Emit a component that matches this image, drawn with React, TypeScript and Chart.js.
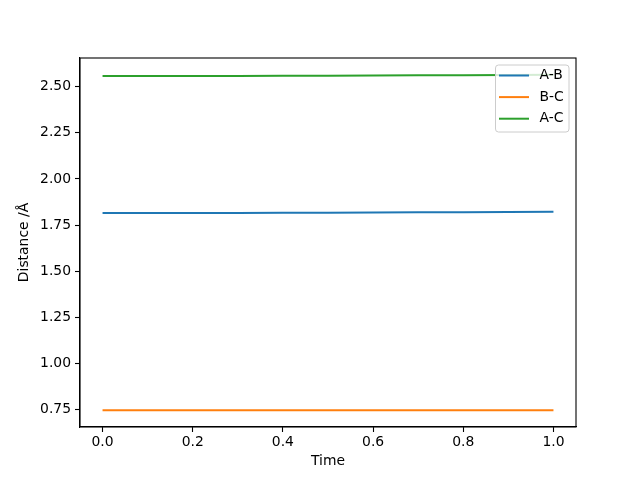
import React, { useEffect, useRef } from "react";
import { Chart, registerables } from "chart.js";

Chart.register(...registerables);

const timeValues = [0, 0.1, 0.2, 0.3, 0.4, 0.5, 0.6, 0.7, 0.8, 0.9, 1.0];
const abValues = [1.816, 1.816, 1.816, 1.816, 1.817, 1.817, 1.818, 1.819, 1.820, 1.821, 1.822];
const bcValues = [0.746, 0.746, 0.746, 0.746, 0.746, 0.746, 0.746, 0.746, 0.746, 0.746, 0.746];
const acValues = [2.559, 2.559, 2.559, 2.559, 2.560, 2.560, 2.561, 2.562, 2.563, 2.564, 2.565];
const seriesNames = ["A-B", "B-C", "A-C"];
const seriesColors = ["#1f77b4", "#ff7f0e", "#2ca02c"];
const xTicks = [0, 0.2, 0.4, 0.6, 0.8, 1.0];
const yTicks = [0.75, 1.0, 1.25, 1.5, 1.75, 2.0, 2.25, 2.5];
const xTitle = "Time";
const yTitle = "Distance /Å";

const FONT = "'DejaVu Sans', sans-serif";
const FS = 13.9;

const framePlugin = {
  id: "frame",
  afterDatasetsDraw(chart: any) {
    const { ctx, chartArea } = chart;
    ctx.save();
    ctx.strokeStyle = "#000";
    ctx.lineWidth = 1.1;
    ctx.strokeRect(chartArea.left, chartArea.top, chartArea.right - chartArea.left, chartArea.bottom - chartArea.top);
    ctx.restore();
  },
  afterDraw(chart: any) {
    const { ctx, chartArea } = chart;
    ctx.save();
    // axis titles
    ctx.font = `${FS}px ${FONT}`;
    ctx.fillStyle = "#000";
    ctx.textAlign = "center";
    ctx.textBaseline = "middle";
    ctx.fillText(xTitle, (chartArea.left + chartArea.right) / 2, 461);
    ctx.save();
    ctx.translate(24, (chartArea.top + chartArea.bottom) / 2);
    ctx.rotate(-Math.PI / 2);
    ctx.fillText(yTitle, 0, 0);
    ctx.restore();

    // legend box (matplotlib style, upper right)
    const w = 73.5;
    const h = 67;
    const x = chartArea.right - 7 - w;
    const y = chartArea.top + 7;
    ctx.beginPath();
    const r = 3;
    ctx.moveTo(x + r, y);
    ctx.lineTo(x + w - r, y);
    ctx.quadraticCurveTo(x + w, y, x + w, y + r);
    ctx.lineTo(x + w, y + h - r);
    ctx.quadraticCurveTo(x + w, y + h, x + w - r, y + h);
    ctx.lineTo(x + r, y + h);
    ctx.quadraticCurveTo(x, y + h, x, y + h - r);
    ctx.lineTo(x, y + r);
    ctx.quadraticCurveTo(x, y, x + r, y);
    ctx.closePath();
    ctx.fillStyle = "rgba(255,255,255,0.8)";
    ctx.fill();
    ctx.strokeStyle = "#cccccc";
    ctx.lineWidth = 1;
    ctx.stroke();
    ctx.textAlign = "left";
    chart.data.datasets.forEach((ds: any, i: number) => {
      const ly = y + 10.5 + i * 21.6;
      ctx.strokeStyle = ds.borderColor;
      ctx.lineWidth = 2;
      ctx.beginPath();
      ctx.moveTo(x + 3.5, ly);
      ctx.lineTo(x + 33.5, ly);
      ctx.stroke();
      ctx.fillStyle = "#000";
      ctx.fillText(ds.label, x + 44, ly);
    });
    ctx.restore();
  },
};

export default function App() {
  const ref = useRef<HTMLCanvasElement | null>(null);
  useEffect(() => {
    document.body.style.margin = "0";
    const canvas = ref.current!;
    const makeData = (vals: number[]) => timeValues.map((t, i) => ({ x: t, y: vals[i] }));
    const allSeries = [abValues, bcValues, acValues];
    const chart = new Chart(canvas, {
      type: "line",
      data: {
        datasets: allSeries.map((vals, i) => ({
          label: seriesNames[i],
          data: makeData(vals),
          borderColor: seriesColors[i],
          backgroundColor: seriesColors[i],
          borderWidth: 2,
          pointRadius: 0,
          tension: 0,
          fill: false,
        })),
      },
      options: {
        animation: false,
        responsive: false,
        maintainAspectRatio: false,
        layout: { padding: { left: 0, top: 58, right: 64, bottom: 0 } },
        plugins: { legend: { display: false }, tooltip: { enabled: false } },
        scales: {
          x: {
            type: "linear",
            min: -0.05,
            max: 1.05,
            afterBuildTicks: (scale: any) => {
              scale.ticks = xTicks.map((v) => ({ value: v }));
            },
            afterFit: (scale: any) => {
              scale.height = 53;
            },
            ticks: {
              color: "#000",
              font: { family: FONT, size: FS },
              padding: 2,
              maxRotation: 0,
              autoSkip: false,
              callback: (v: any) => Number(v).toFixed(1),
            },
            grid: { drawOnChartArea: false, tickLength: 5, color: "#000", tickWidth: 1.1 },
            border: { display: true, color: "#000", width: 1.1 },
            title: { display: false },
          },
          y: {
            type: "linear",
            min: 0.655,
            max: 2.656,
            afterBuildTicks: (scale: any) => {
              scale.ticks = yTicks.map((v) => ({ value: v }));
            },
            afterFit: (scale: any) => {
              scale.width = 80;
            },
            ticks: {
              color: "#000",
              font: { family: FONT, size: FS },
              padding: 4,
              autoSkip: false,
              callback: (v: any) => Number(v).toFixed(2),
            },
            grid: { drawOnChartArea: false, tickLength: 5, color: "#000", tickWidth: 1.1 },
            border: { display: true, color: "#000", width: 1.1 },
            title: { display: false },
          },
        },
      },
      plugins: [framePlugin],
    } as any);
    return () => chart.destroy();
  }, []);
  return (
    <div style={{ position: "absolute", left: 0, top: 0, width: 640, height: 480, background: "#fff" }}>
      <canvas ref={ref} width={640} height={480} style={{ width: 640, height: 480, display: "block" }} />
    </div>
  );
}
